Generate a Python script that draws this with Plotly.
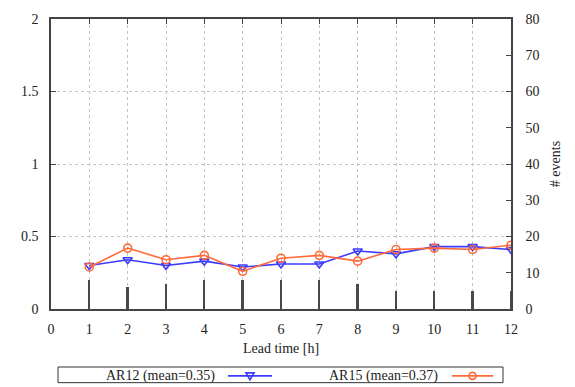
import numpy as np
import plotly.graph_objects as go

lead_time = [1, 2, 3, 4, 5, 6, 7, 8, 9, 10, 11, 12]
ar12 = [0.30, 0.34, 0.30, 0.33, 0.29, 0.31, 0.31, 0.40, 0.38, 0.43, 0.43, 0.41]
ar15 = [0.29, 0.42, 0.34, 0.37, 0.26, 0.35, 0.37, 0.33, 0.41, 0.42, 0.41, 0.44]
n_events = [8, 6, 7, 8, 8, 8, 8, 7, 5, 5, 5, 5]

x_ticks = list(range(0, 13))
y_ticks = [0, 0.5, 1, 1.5, 2]
y_tick_text = ["0", "0.5", "1", "1.5", "2"]
y2_ticks = list(range(0, 90, 10))

BLUE = "#3c3cff"
ORANGE = "#ff6a3a"
AXC = "#444444"
GRID = "#c4c4c4"
FONT = dict(family="'Times New Roman', Times, 'Liberation Serif', 'DejaVu Serif', serif", size=14, color="#222222")

fig = go.Figure()

fig.add_trace(go.Bar(
    x=lead_time, y=n_events, yaxis="y2", width=0.05,
    marker=dict(color="#4a4a4a", line=dict(width=0)), showlegend=False,
))
fig.add_trace(go.Scatter(
    x=lead_time, y=ar12, mode="lines+markers",
    line=dict(color=BLUE, width=1.6),
    marker=dict(symbol="triangle-down-open", size=8, color=BLUE, line=dict(width=1.6, color=BLUE)),
    showlegend=False,
))
fig.add_trace(go.Scatter(
    x=lead_time, y=ar15, mode="lines+markers",
    line=dict(color=ORANGE, width=1.6),
    marker=dict(symbol="circle-open", size=8, color=ORANGE, line=dict(width=1.6, color=ORANGE)),
    showlegend=False,
))

# Custom gnuplot-style legend box (text followed by sample)
ly = -0.2305
shapes = [
    dict(type="rect", xref="paper", yref="paper", x0=0.0152, x1=0.9826, y0=-0.254, y1=-0.2,
         line=dict(color="#333333", width=1), fillcolor="rgba(0,0,0,0)"),
    dict(type="line", xref="paper", yref="paper", x0=0.3848, x1=0.4804, y0=ly, y1=ly,
         line=dict(color=BLUE, width=1.6)),
    dict(type="line", xref="paper", yref="paper", x0=0.8717, x1=0.9609, y0=ly, y1=ly,
         line=dict(color=ORANGE, width=1.6)),
    dict(type="path", xref="paper", yref="paper", xsizemode="pixel", ysizemode="pixel",
         xanchor=0.4326, yanchor=ly, path="M -4,3 L 4,3 L 0,-4 Z",
         line=dict(color=BLUE, width=1.6), fillcolor="rgba(0,0,0,0)"),
    dict(type="circle", xref="paper", yref="paper", xsizemode="pixel", ysizemode="pixel",
         xanchor=0.9163, yanchor=ly, x0=-3.5, x1=3.5, y0=-3.5, y1=3.5,
         line=dict(color=ORANGE, width=1.6), fillcolor="rgba(0,0,0,0)"),
]
annotations = [
    dict(xref="paper", yref="paper", x=0.361, y=ly, xanchor="right", yanchor="middle",
         text=f"AR12 (mean={np.mean(ar12):.2f})", showarrow=False, font=FONT),
    dict(xref="paper", yref="paper", x=0.8457, y=ly, xanchor="right", yanchor="middle",
         text=f"AR15 (mean={np.mean(ar15):.2f})", showarrow=False, font=FONT),
]

fig.update_layout(
    width=575, height=387,
    margin=dict(l=51, r=64, t=14, b=78),
    paper_bgcolor="white", plot_bgcolor="white",
    font=FONT,
    bargap=0,
    shapes=shapes,
    annotations=annotations,
    xaxis=dict(
        range=[0, 12], tickvals=x_ticks, ticks="inside", ticklen=5, tickcolor=AXC,
        showline=True, linecolor=AXC, linewidth=1.5, mirror="ticks",
        showgrid=True, gridcolor=GRID, griddash="dot", gridwidth=1,
        zeroline=False, ticklabelstandoff=6,
        title=dict(text="Lead time [h]", standoff=8, font=FONT),
    ),
    yaxis=dict(
        range=[0, 2], tickvals=y_ticks, ticktext=y_tick_text, ticks="inside", ticklen=5,
        tickcolor=AXC, showline=True, linecolor=AXC, linewidth=1.5, mirror=True,
        showgrid=True, gridcolor=GRID, griddash="dot", gridwidth=1,
        zeroline=False, ticklabelstandoff=8,
    ),
    yaxis2=dict(
        range=[0, 80], tickvals=y2_ticks, overlaying="y", side="right",
        ticks="inside", ticklen=5, tickcolor=AXC, showline=True, linecolor=AXC, linewidth=1.5,
        showgrid=False, zeroline=False, ticklabelstandoff=10,
        title=dict(text="# events", standoff=12, font=FONT),
    ),
)

fig.write_html("out.html")
